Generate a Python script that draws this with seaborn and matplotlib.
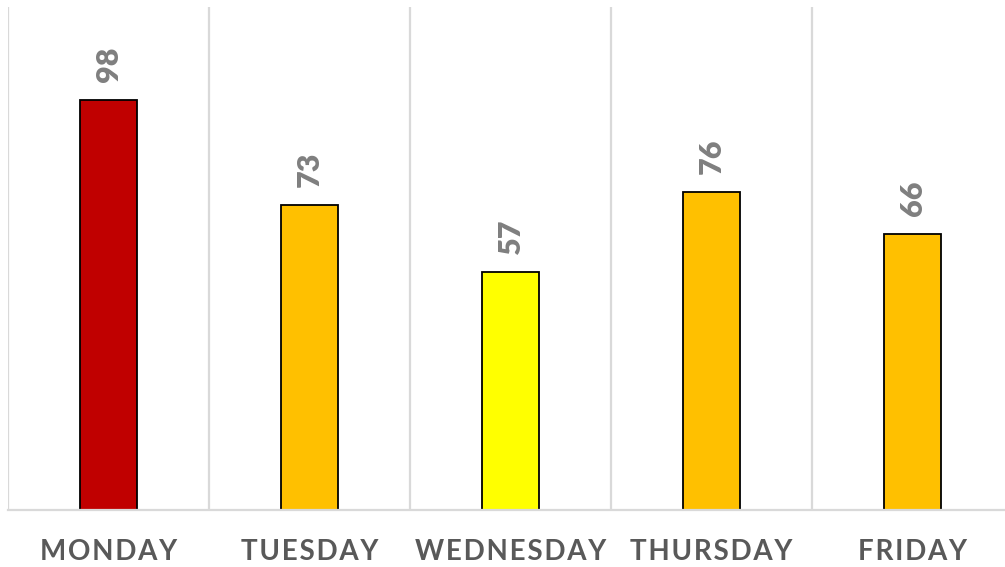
import numpy as np
import pandas as pd
import matplotlib
matplotlib.use("Agg")
import matplotlib.pyplot as plt
import seaborn as sns

# chart data
days = ["MONDAY", "TUESDAY", "WEDNESDAY", "THURSDAY", "FRIDAY"]
values = [98, 73, 57, 76, 66]
bar_colors = ["#C00000", "#FFC000", "#FFFF00", "#FFC000", "#FFC000"]

df = pd.DataFrame({"day": days, "value": values})

sns.set_style("white")
plt.rcParams["font.family"] = ["Lato", "DejaVu Sans"]

fig = plt.figure(figsize=(10.05, 5.67), dpi=100)
ax = fig.add_axes([8 / 1005, 57 / 567, 997 / 1005, 503 / 567])

sns.barplot(data=df, x="day", y="value", hue="day", palette=bar_colors,
            legend=False, width=0.285, edgecolor="black", linewidth=1.3,
            saturation=1, ax=ax)

ax.set_ylim(0, 120.3)
ax.set_xlim(-0.5, 4.46)

# category separators
ax.set_xticks(np.arange(-0.5, 4.5, 1.0), minor=True)
ax.grid(which="minor", axis="x", color="#D9D9D9", linewidth=1.6)
ax.grid(which="major", visible=False)
ax.tick_params(axis="x", which="both", length=0, pad=21)
ax.set_yticks([])

# letter-spaced category labels
spaced = ["\u200a".join(d) for d in days]
ax.set_xticks(range(len(days)))
ax.set_xticklabels(spaced, fontsize=20, fontweight="bold", color="#595959")
ax.set_xlabel("")
ax.set_ylabel("")

for side in ["top", "right", "left"]:
    ax.spines[side].set_visible(False)
ax.spines["bottom"].set_color("#D9D9D9")
ax.spines["bottom"].set_linewidth(1.6)

# value labels above bars
for i, v in enumerate(values):
    ax.annotate(str(v), (i, v), xytext=(0, 13), textcoords="offset points",
                rotation=90, ha="center", va="bottom", fontsize=22,
                fontweight="heavy", color="#7F7F7F")

fig.savefig("out.png", dpi=100)
